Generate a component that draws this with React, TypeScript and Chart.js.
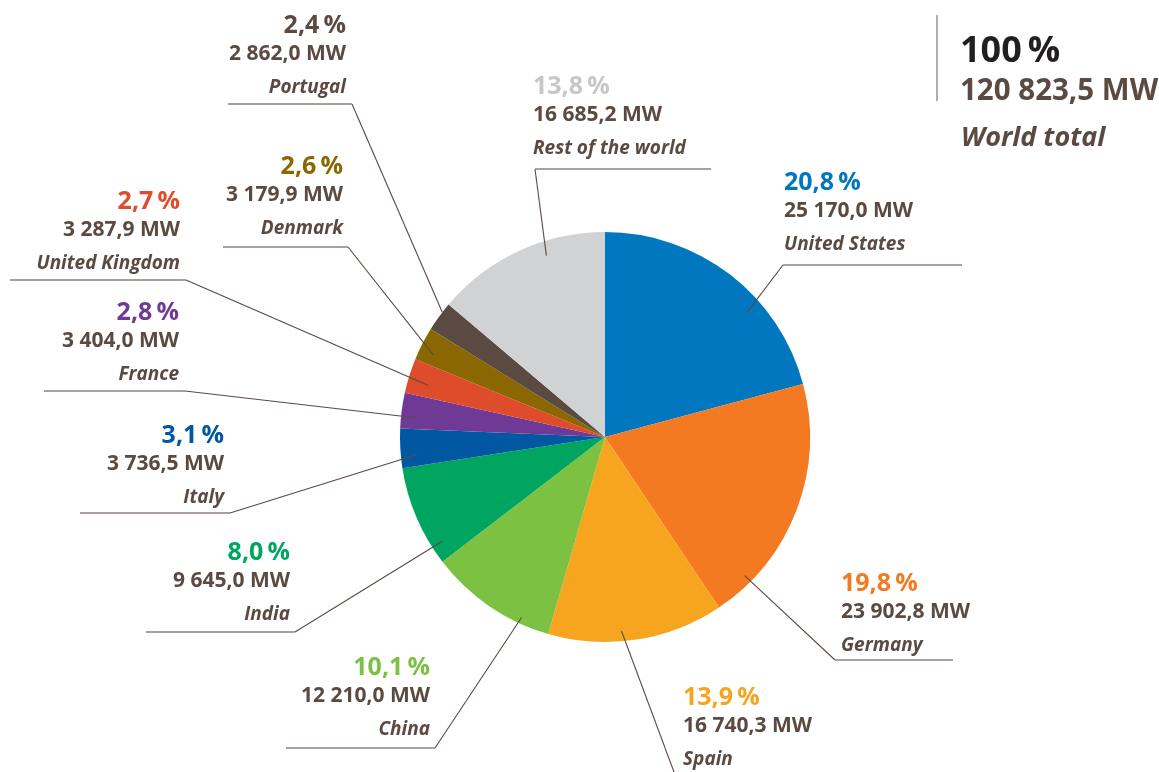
import React, { useEffect, useRef } from "react";
import { Chart, registerables } from "chart.js";

Chart.register(...registerables);

const countries = [
  "United States",
  "Germany",
  "Spain",
  "China",
  "India",
  "Italy",
  "France",
  "United Kingdom",
  "Denmark",
  "Portugal",
  "Rest of the world",
];
const capacityMW = [25170.0, 23902.8, 16740.3, 12210.0, 9645.0, 3736.5, 3404.0, 3287.9, 3179.9, 2862.0, 16685.2];
const worldTotalMW = 120823.5;
const sliceColors = [
  "#0077bf",
  "#f47a22",
  "#f7a51f",
  "#7cc142",
  "#00a560",
  "#0058a3",
  "#6f3996",
  "#de4c2b",
  "#8a6700",
  "#5b4a42",
  "#d1d2d4",
];
const percentColors = [
  "#0077bf",
  "#f47a22",
  "#f7a51f",
  "#7cc142",
  "#00a560",
  "#0058a3",
  "#6f3996",
  "#de4c2b",
  "#8a6700",
  "#5b4a42",
  "#c6c7c9",
];

// label layout: text anchor x, percent-line y, alignment, underline y, underline extent, elbow x,
// leader anchor as fraction across the slice and fraction of radius
const labelLayout = [
  { tx: 784, ty: 183, align: "left", uy: 265, u1: 783, u2: 962, ex: 783, af: 0.65, rf: 0.92 },
  { tx: 841, ty: 584, align: "left", uy: 660, u1: 835, u2: 953, ex: 835, af: 0.84, rf: 0.96 },
  { tx: 683, ty: 698, align: "left", uy: 780, u1: 677, u2: 800, ex: 677, af: 0.58, rf: 0.95 },
  { tx: 430, ty: 668, align: "right", uy: 748, u1: 286, u2: 435, ex: 435, af: 0.24, rf: 0.97 },
  { tx: 290, ty: 553, align: "right", uy: 632, u1: 146, u2: 295, ex: 295, af: 0.17, rf: 0.94 },
  { tx: 224, ty: 436, align: "right", uy: 513, u1: 80, u2: 230, ex: 230, af: 0.31, rf: 0.92 },
  { tx: 179, ty: 313, align: "right", uy: 391, u1: 44, u2: 185, ex: 185, af: 0.34, rf: 0.92 },
  { tx: 180, ty: 202, align: "right", uy: 280, u1: 10, u2: 186, ex: 186, af: 0.39, rf: 0.9 },
  { tx: 343, ty: 167, align: "right", uy: 247, u1: 223, u2: 348, ex: 348, af: 0.35, rf: 0.93 },
  { tx: 346, ty: 26, align: "right", uy: 104, u1: 228, u2: 352, ex: 352, af: 0.67, rf: 1.0 },
  { tx: 533, ty: 87, align: "left", uy: 169, u1: 535, u2: 711, ex: 535, af: 0.64, rf: 0.93 },
];

const TEXT_BROWN = "#5a4a42";
const LINE_COLOR = "#5a4a42";
const FONT = "'Open Sans', 'Noto Sans', sans-serif";

function fmtMW(v: number): string {
  const s = v.toFixed(1);
  const [int, dec] = s.split(".");
  const withSpaces = int.replace(/\B(?=(\d{3})+(?!\d))/g, " ");
  return withSpaces + "," + dec + " MW";
}
function fmtPct(v: number): string {
  return (Math.round((v / worldTotalMW) * 1000) / 10).toFixed(1).replace(".", ",") + "\u2009%";
}

const labelPlugin = {
  id: "leaderLabels",
  afterDraw(chart: any) {
    const ctx = chart.ctx as CanvasRenderingContext2D;
    const meta = chart.getDatasetMeta(0);
    ctx.save();
    meta.data.forEach((arc: any, i: number) => {
      const L = labelLayout[i];
      const ang = arc.startAngle + (arc.endAngle - arc.startAngle) * L.af;
      const r = arc.outerRadius * L.rf;
      const sx = arc.x + Math.cos(ang) * r;
      const sy = arc.y + Math.sin(ang) * r;
      ctx.strokeStyle = LINE_COLOR;
      ctx.lineWidth = 1.1;
      ctx.beginPath();
      ctx.moveTo(sx, sy);
      ctx.lineTo(L.ex, L.uy);
      ctx.stroke();
      ctx.strokeStyle = "#8c807a";
      ctx.lineWidth = 1.3;
      ctx.beginPath();
      ctx.moveTo(L.u1, L.uy);
      ctx.lineTo(L.u2, L.uy);
      ctx.stroke();

      ctx.textAlign = L.align as CanvasTextAlign;
      ctx.textBaseline = "middle";
      ctx.fillStyle = percentColors[i];
      ctx.font = `700 25px ${FONT}`;
      ctx.fillText(fmtPct(capacityMW[i]), L.tx, L.ty);
      ctx.fillStyle = TEXT_BROWN;
      ctx.font = `700 21px ${FONT}`;
      ctx.fillText(fmtMW(capacityMW[i]), L.tx, L.ty + 28);
      ctx.font = `italic 700 19px ${FONT}`;
      ctx.fillText(countries[i], L.tx, L.ty + 62);
    });

    // world total block
    ctx.strokeStyle = "#8c807a";
    ctx.lineWidth = 1.3;
    ctx.beginPath();
    ctx.moveTo(937, 15);
    ctx.lineTo(937, 101);
    ctx.stroke();
    ctx.textAlign = "left";
    ctx.textBaseline = "middle";
    ctx.fillStyle = "#231f20";
    ctx.font = `700 36px ${FONT}`;
    ctx.fillText("100\u2009%", 960, 52);
    ctx.fillStyle = TEXT_BROWN;
    ctx.font = `700 29.5px ${FONT}`;
    ctx.fillText(fmtMW(worldTotalMW), 960, 92);
    ctx.font = `italic 700 27px ${FONT}`;
    ctx.fillText("World total", 961, 138);
    ctx.restore();
  },
};

export default function App() {
  const ref = useRef<HTMLCanvasElement | null>(null);
  useEffect(() => {
    document.body.style.margin = "0";
    const canvas = ref.current!;
    const chart = new Chart(canvas, {
      type: "pie",
      data: {
        labels: countries,
        datasets: [
          {
            data: capacityMW,
            backgroundColor: sliceColors,
            borderWidth: 0,
          },
        ],
      },
      options: {
        responsive: false,
        animation: false,
        layout: { padding: { left: 400, right: 349, top: 232, bottom: 130 } },
        plugins: {
          legend: { display: false },
          tooltip: { enabled: false },
        },
      },
      plugins: [labelPlugin],
    });
    return () => chart.destroy();
  }, []);
  return (
    <div style={{ width: 1159, height: 772, background: "#fff" }}>
      <canvas ref={ref} width={1159} height={772} style={{ display: "block" }} />
    </div>
  );
}
